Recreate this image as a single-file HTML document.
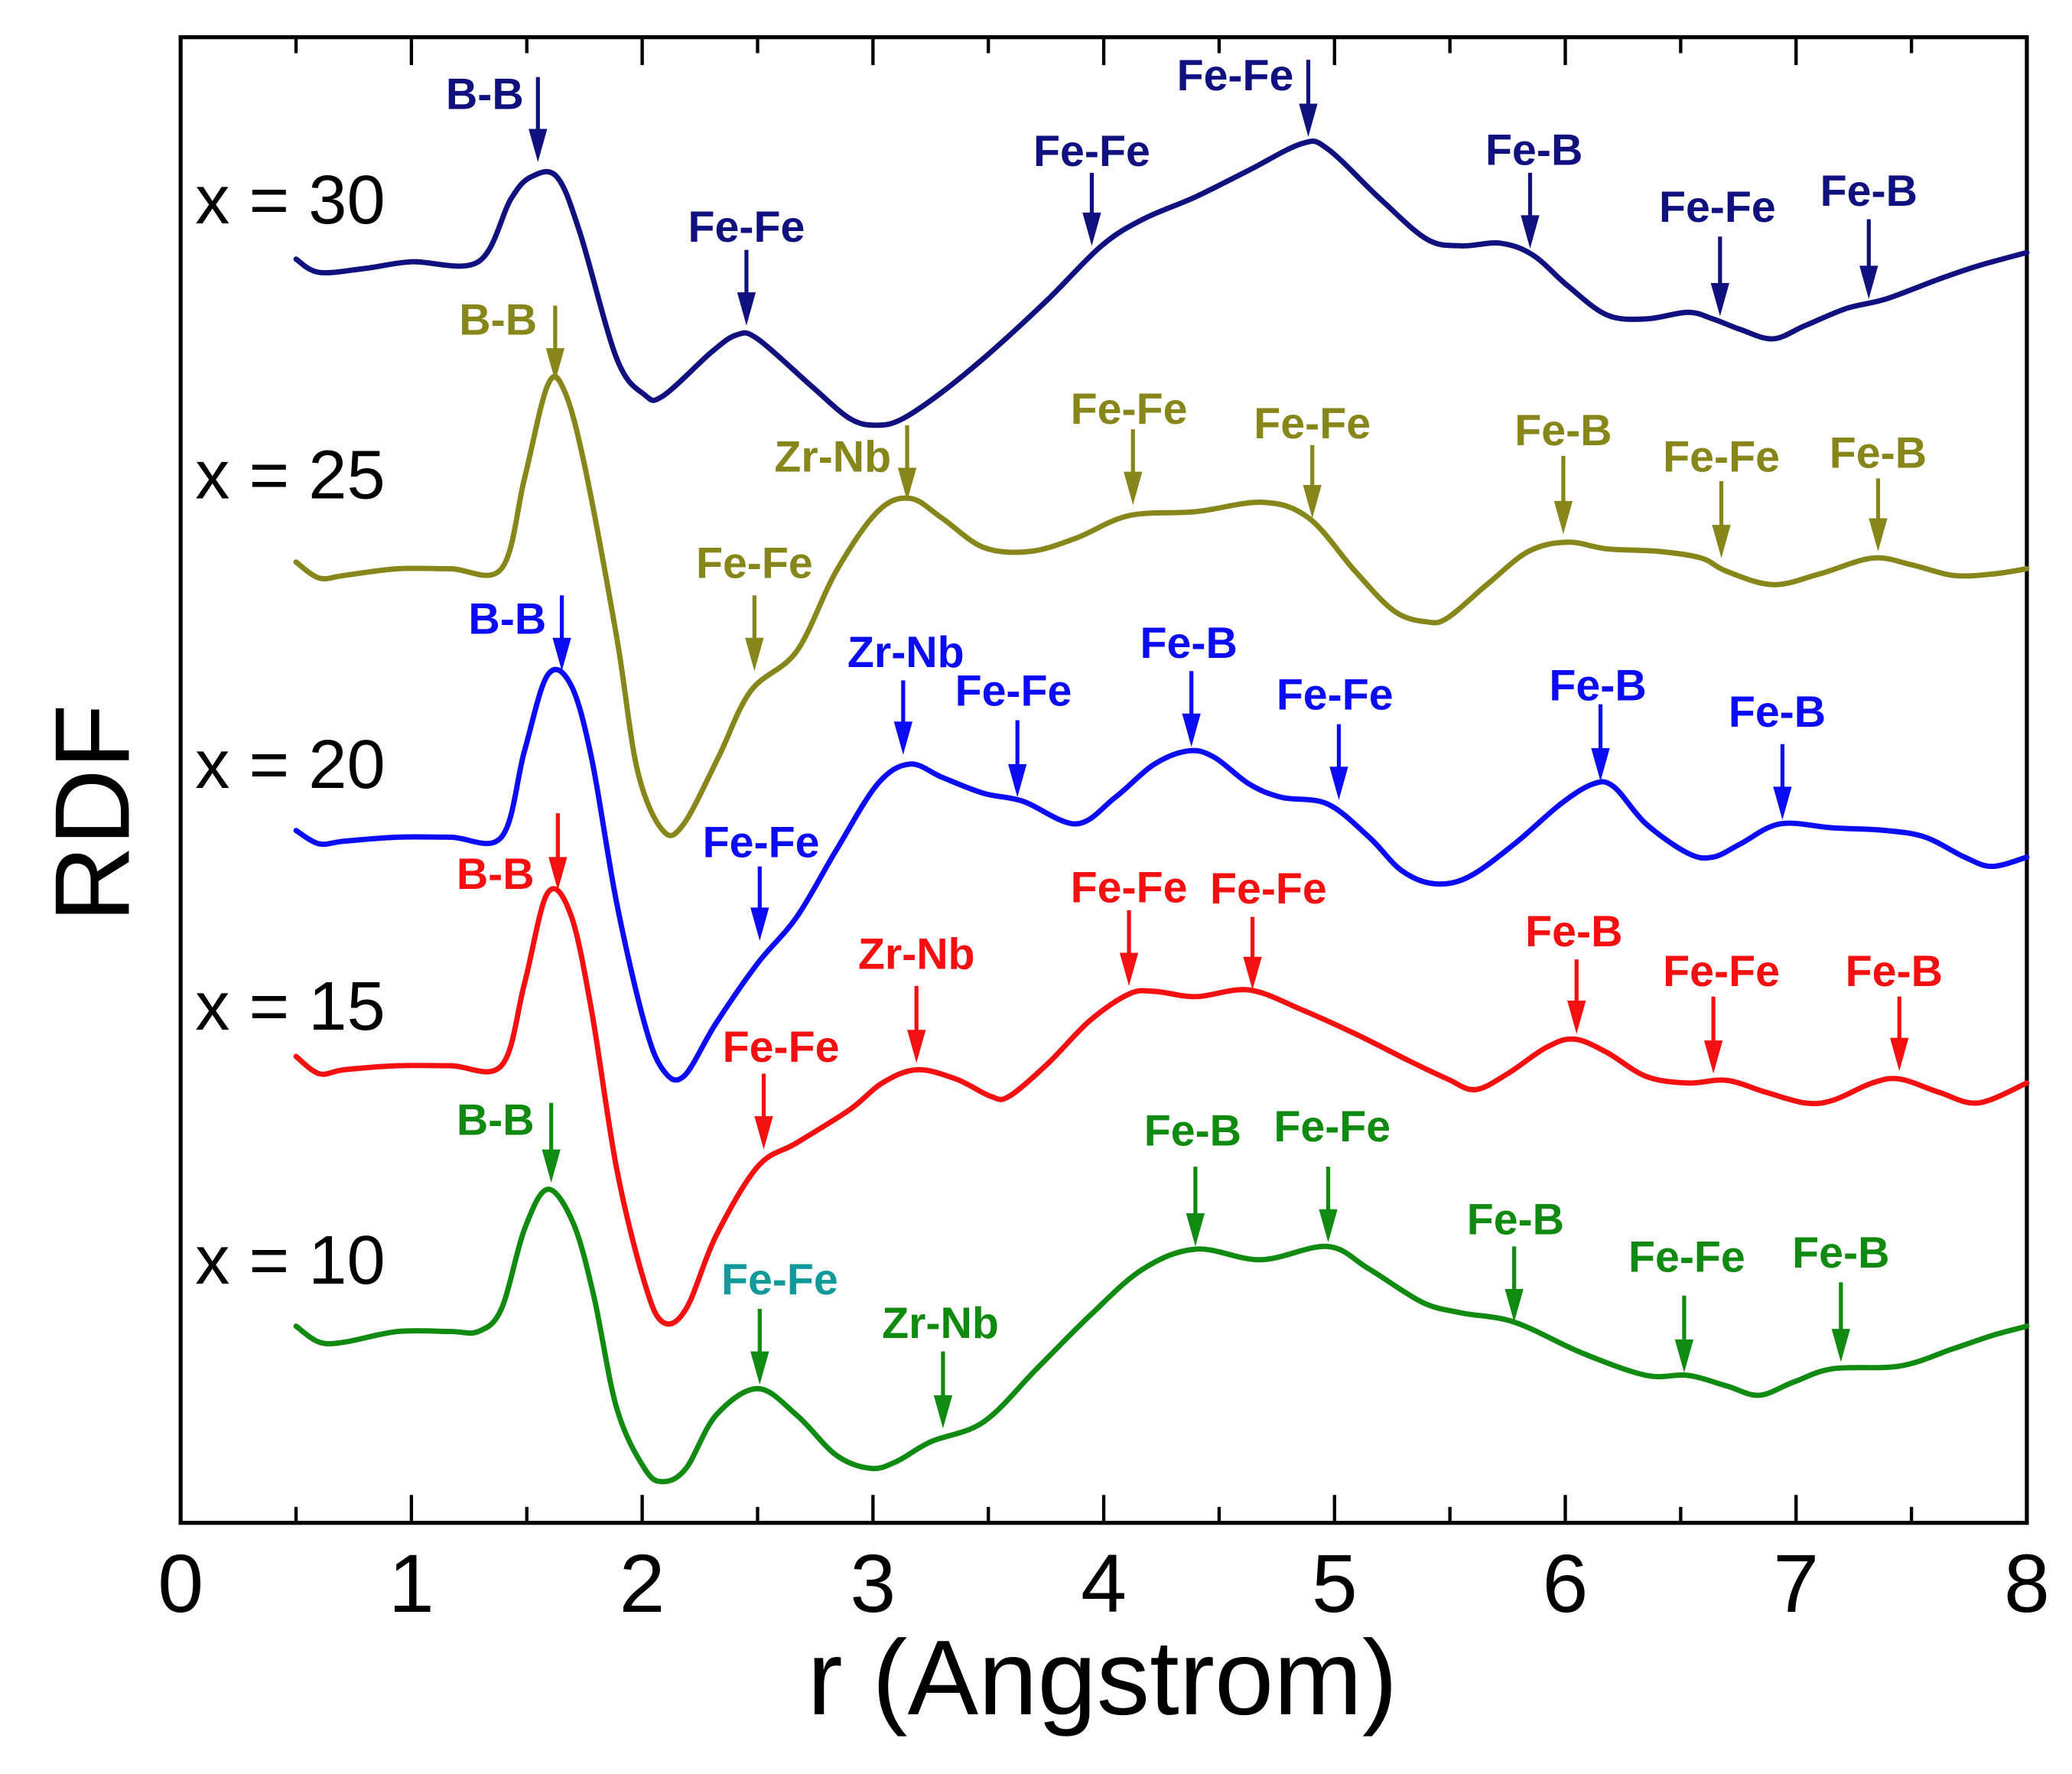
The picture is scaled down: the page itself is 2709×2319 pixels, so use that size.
<!DOCTYPE html>
<html><head><meta charset="utf-8"><style>
html,body{margin:0;padding:0;background:#fff;}
svg{display:block;}
text{font-family:"Liberation Sans",Arial,sans-serif;}
</style></head><body>
<svg id="chart" width="2709" height="2319" viewBox="0 0 1560 1335" preserveAspectRatio="none" xmlns="http://www.w3.org/2000/svg">
<rect x="0" y="0" width="1560" height="1335" fill="#fff"/>
<g id="frame"></g>
<g id="series"></g>
<g id="annot"></g>
<text x="830" y="1290" font-size="80" text-anchor="middle">r (Angstrom)</text>
<text transform="translate(97,612) rotate(-90)" font-size="80" text-anchor="middle">RDF</text>
</svg>
<script>
const NS="http://www.w3.org/2000/svg";
const xTicks=[0,1,2,3,4,5,6,7,8];
const xTickLabels=["0","1","2","3","4","5","6","7","8"];
const seriesNames=["x = 30","x = 25","x = 20","x = 15","x = 10"];
const seriesColors=["#10107e","#86861a","#0c0cf4","#f41010","#108a10"];
const labelY=[150,357,575,757,948];
const r30=[0.5,0.6,0.8,1.0,1.29,1.43,1.52,1.63,1.73,1.89,2.01,2.09,2.30,2.41,2.50,2.73,2.90,3.02,3.13,3.30,3.51,3.76,3.99,4.17,4.40,4.63,4.86,4.97,5.20,5.40,5.55,5.72,5.86,6.01,6.18,6.35,6.53,6.64,6.76,6.90,7.04,7.22,7.39,7.62,7.79,8.00];
const v30=[9.51,9.41,9.44,9.49,9.49,9.96,10.13,10.13,9.71,8.76,8.49,8.48,8.81,8.94,8.91,8.56,8.31,8.26,8.31,8.51,8.81,9.21,9.61,9.81,9.98,10.18,10.38,10.34,9.96,9.66,9.61,9.63,9.54,9.31,9.09,9.06,9.11,9.06,8.98,8.91,9.01,9.14,9.21,9.36,9.46,9.56];
const r25=[0.50,0.60,0.71,0.94,1.17,1.39,1.49,1.59,1.66,1.75,1.89,1.98,2.09,2.18,2.33,2.47,2.67,2.84,3.02,3.16,3.30,3.48,3.68,3.88,4.11,4.40,4.69,4.89,5.09,5.26,5.40,5.49,5.66,5.84,6.01,6.18,6.41,6.59,6.70,6.90,7.10,7.33,7.50,7.68,7.85,8.00];
const v25=[7.23,7.11,7.13,7.18,7.18,7.18,7.86,8.56,8.53,7.96,6.66,5.66,5.21,5.26,5.76,6.26,6.56,7.16,7.61,7.71,7.56,7.34,7.31,7.41,7.58,7.61,7.68,7.56,7.16,6.86,6.78,6.81,7.06,7.31,7.38,7.33,7.31,7.26,7.16,7.06,7.14,7.26,7.21,7.13,7.14,7.18];
const r20=[0.50,0.60,0.71,0.94,1.17,1.39,1.49,1.59,1.69,1.78,1.89,2.01,2.09,2.18,2.32,2.50,2.67,2.84,3.02,3.16,3.30,3.48,3.65,3.88,4.05,4.22,4.37,4.48,4.63,4.77,4.97,5.15,5.29,5.43,5.58,5.78,5.98,6.12,6.21,6.35,6.53,6.64,6.76,6.93,7.16,7.39,7.56,7.73,7.85,8.00];
const v20=[5.21,5.11,5.13,5.16,5.16,5.16,5.81,6.38,6.31,5.76,4.66,3.76,3.41,3.36,3.76,4.21,4.56,5.06,5.56,5.71,5.61,5.49,5.43,5.26,5.46,5.71,5.81,5.76,5.56,5.46,5.41,5.16,4.91,4.81,4.86,5.11,5.41,5.56,5.54,5.26,5.04,5.01,5.11,5.26,5.23,5.21,5.16,5.01,4.94,5.01];
const r15=[0.50,0.60,0.71,0.94,1.17,1.39,1.49,1.59,1.69,1.78,1.89,2.01,2.09,2.19,2.32,2.50,2.67,2.90,3.04,3.19,3.36,3.51,3.59,3.76,3.94,4.11,4.22,4.40,4.63,4.86,5.09,5.32,5.49,5.61,5.75,5.92,6.04,6.18,6.35,6.53,6.70,6.87,7.04,7.16,7.33,7.45,7.62,7.79,8.00];
const v15=[3.51,3.38,3.41,3.44,3.44,3.44,4.06,4.74,4.58,3.86,2.66,1.81,1.51,1.61,2.16,2.68,2.86,3.11,3.31,3.41,3.34,3.21,3.21,3.46,3.78,3.98,4.00,3.96,4.01,3.86,3.68,3.48,3.34,3.26,3.38,3.58,3.64,3.54,3.36,3.31,3.33,3.24,3.16,3.18,3.31,3.34,3.24,3.16,3.31];
const r10=[0.50,0.60,0.71,0.94,1.17,1.29,1.39,1.49,1.59,1.70,1.79,1.89,2.01,2.09,2.19,2.32,2.50,2.67,2.84,2.99,3.10,3.25,3.48,3.71,3.94,4.17,4.40,4.68,4.97,5.15,5.38,5.55,5.78,6.07,6.35,6.53,6.70,6.84,6.99,7.16,7.45,7.68,7.85,8.00];
const v10=[1.48,1.36,1.36,1.44,1.44,1.44,1.61,2.21,2.51,2.26,1.71,0.86,0.41,0.31,0.41,0.81,1.01,0.81,0.51,0.41,0.46,0.61,0.76,1.16,1.56,1.91,2.06,1.98,2.08,1.91,1.66,1.58,1.51,1.28,1.11,1.11,1.03,0.96,1.06,1.16,1.18,1.31,1.41,1.48];
const annText=["B-B","Fe-Fe","Fe-Fe","Fe-Fe","Fe-B","Fe-Fe","Fe-B",
"B-B","Zr-Nb","Fe-Fe","Fe-Fe","Fe-B","Fe-Fe","Fe-B","Fe-Fe",
"B-B","Zr-Nb","Fe-Fe","Fe-B","Fe-Fe","Fe-B","Fe-B","Fe-Fe",
"B-B","Zr-Nb","Fe-Fe","Fe-Fe","Fe-B","Fe-Fe","Fe-B","Fe-Fe",
"B-B","Fe-Fe","Zr-Nb","Fe-B","Fe-Fe","Fe-B","Fe-Fe","Fe-B"];
const annSeries=[0,0,0,0,0,0,0,1,1,1,1,1,1,1,1,2,2,2,2,2,2,2,2,3,3,3,3,3,3,3,3,4,4,4,4,4,4,4,4];
const annPos=[[365,70,405,58,122],[562,170,562,188,245],[822,113,822,130,185],[930,56,985,45,103],[1155,112,1152,130,187],[1293,155,1295,178,238],[1407,143,1407,165,225],
[375,240,418,230,287],[627,343,683,320,377],[850,307,853,323,380],[988,318,988,335,390],[1177,323,1177,343,402],[1296,343,1296,362,420],[1414,340,1414,360,415],[568,423,568,448,505],
[382,465,423,448,505],[682,490,680,512,568],[763,519,766,542,600],[895,483,897,505,562],[1005,522,1008,545,602],[1203,515,1205,530,588],[1338,535,1342,560,617],[573,633,572,652,708],
[373,657,420,612,670],[690,717,690,742,800],[850,667,850,685,742],[955,668,943,690,745],[1185,700,1187,722,778],[1296,730,1290,750,808],[1426,730,1430,750,806],[588,787,575,808,865],
[373,842,415,830,890],[587,962,572,985,1042],[708,995,710,1017,1075],[898,850,900,878,938],[1003,847,1000,878,935],[1141,917,1140,938,995],[1270,945,1268,975,1033],[1386,942,1386,965,1025]];

const X0=136,X1=1526,Y0=1146,Y1=28;
function xs(r){return X0+(r-0)/(8-0)*(X1-X0);}
function ys(v){return Y0-v*100;}
function mk(tag,attrs,parent){const e=document.createElementNS(NS,tag);for(const k in attrs)e.setAttribute(k,attrs[k]);parent.appendChild(e);return e;}

const frame=document.getElementById('frame');
let fr=mk('rect',{x:X0,y:Y1,width:X1-X0,height:Y0-Y1,fill:'none',stroke:'#000','stroke-width':3},frame);


for(let i=0;i<=16;i++){
  const r=i*0.5, major=i%2===0, len=major?21:12, x=xs(r);
  let t=mk('line',{x1:x,x2:x,y1:Y0,y2:Y0-len,stroke:'#000','stroke-width':2.5},frame);
  
  
  let t2=mk('line',{x1:x,x2:x,y1:Y1,y2:Y1+len,stroke:'#000','stroke-width':2.5},frame);
  
  
}
xTicks.forEach((r,i)=>{
  let t=mk('text',{x:xs(r),y:1213,'font-size':62,'text-anchor':'middle'},frame);
  t.textContent=xTickLabels[i];
  
  
});

function smoothPath(pts){
  let d='M'+pts[0][0].toFixed(1)+','+pts[0][1].toFixed(1);
  for(let i=0;i<pts.length-1;i++){
    const p0=pts[i-1]||pts[i],p1=pts[i],p2=pts[i+1],p3=pts[i+2]||p2;
    const c1=[p1[0]+(p2[0]-p0[0])/6,p1[1]+(p2[1]-p0[1])/6];
    const c2=[p2[0]-(p3[0]-p1[0])/6,p2[1]-(p3[1]-p1[1])/6];
    d+=' C'+c1[0].toFixed(1)+','+c1[1].toFixed(1)+' '+c2[0].toFixed(1)+','+c2[1].toFixed(1)+' '+p2[0].toFixed(1)+','+p2[1].toFixed(1);
  }
  return d;
}
const seriesR=[r30,r25,r20,r15,r10], seriesV=[v30,v25,v20,v15,v10];
const sg=document.getElementById('series');
seriesR.forEach((R,si)=>{
  const pts=R.map((r,i)=>[xs(r),ys(seriesV[si][i])]);
  let p=mk('path',{d:smoothPath(pts),fill:'none',stroke:seriesColors[si],'stroke-width':4,'stroke-linejoin':'round','stroke-linecap':'round'},sg);
  
  
  let t=mk('text',{x:147,y:labelY[si]+18,'font-size':52},sg);
  t.textContent=seriesNames[si];
  
  
});
const ag=document.getElementById('annot');
annText.forEach((txt,i)=>{
  const c=seriesColors[annSeries[i]], a=annPos[i];
  const tc=(i===32)?'#129a9a':c;
  let t=mk('text',{x:a[0],y:a[1]+12,'font-size':33,'font-weight':'bold','text-anchor':'middle',fill:tc},ag);
  t.textContent=txt;
  
  
  let l=mk('line',{x1:a[2],x2:a[2],y1:a[3],y2:a[4]-20,stroke:c,'stroke-width':3},ag);
  
  
  let h=mk('polygon',{points:(a[2]-7)+','+(a[4]-25)+' '+(a[2]+7)+','+(a[4]-25)+' '+a[2]+','+a[4],fill:c},ag);
  
  
});
</script>
</body></html>
